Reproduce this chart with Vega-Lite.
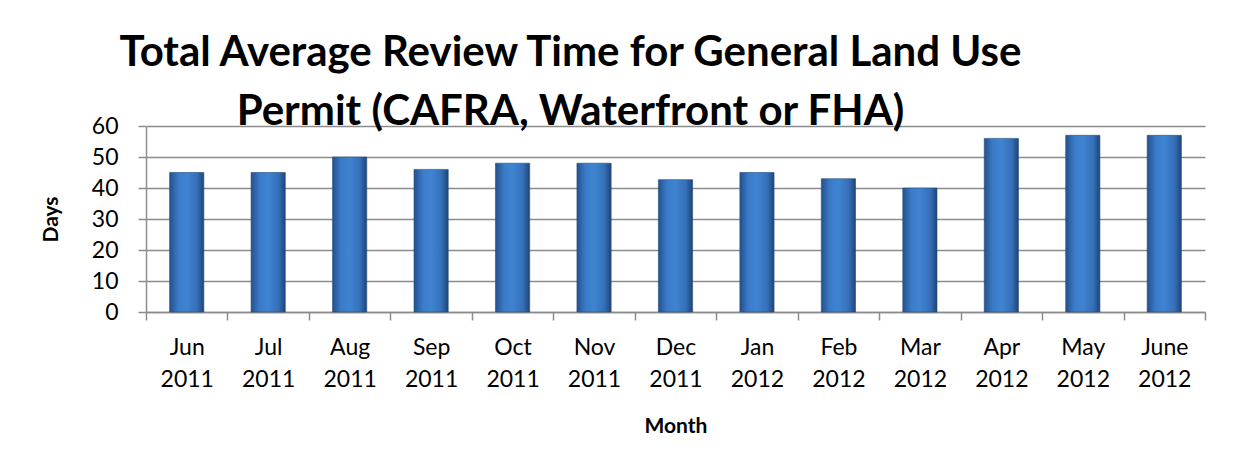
{
  "$schema": "https://vega.github.io/schema/vega-lite/v6.json",
  "width": 1059,
  "height": 186,
  "autosize": {"type": "none"},
  "padding": {"left": 146, "top": 126, "right": 38, "bottom": 155},
  "background": "white",
  "title": {
    "text": ["Total Average Review Time for General Land Use", "Permit (CAFRA, Waterfront or FHA)"],
    "font": "Lato",
    "fontSize": 42,
    "fontWeight": "bold",
    "color": "black",
    "lineHeight": 59,
    "anchor": "middle",
    "dx": -105,
    "dy": 21,
    "offset": 2
  },
  "data": {
    "values": [
      {"month": "Jun 2011", "days": 45},
      {"month": "Jul 2011", "days": 45},
      {"month": "Aug 2011", "days": 50},
      {"month": "Sep 2011", "days": 46},
      {"month": "Oct 2011", "days": 48},
      {"month": "Nov 2011", "days": 48},
      {"month": "Dec 2011", "days": 42.7},
      {"month": "Jan 2012", "days": 45},
      {"month": "Feb 2012", "days": 43},
      {"month": "Mar 2012", "days": 40},
      {"month": "Apr 2012", "days": 56},
      {"month": "May 2012", "days": 57},
      {"month": "June 2012", "days": 57}
    ]
  },
  "mark": {
    "type": "bar",
    "width": {"band": 0.42},
    "stroke": "#234a7e",
    "strokeWidth": 0.6,
    "color": {
      "gradient": "linear",
      "x1": 0, "y1": 0, "x2": 1, "y2": 0,
      "stops": [
        {"offset": 0, "color": "#24518c"},
        {"offset": 0.25, "color": "#3a7bc8"},
        {"offset": 0.5, "color": "#3f84d2"},
        {"offset": 0.8, "color": "#3570b8"},
        {"offset": 1, "color": "#1f4577"}
      ]
    }
  },
  "encoding": {
    "x": {
      "field": "month",
      "type": "nominal",
      "sort": null,
      "title": "Month",
      "scale": {"paddingInner": 0, "paddingOuter": 0},
      "axis": {
        "labelExpr": "split(datum.label, ' ')",
        "labelAngle": 0,
        "labelFont": "Lato",
        "labelFontSize": 23,
        "labelColor": "black",
        "labelLineHeight": 32,
        "labelPadding": 16,
        "tickBand": "extent",
        "tickSize": 8,
        "tickColor": "#8c8c8c",
        "tickWidth": 1.5,
        "domainColor": "#8c8c8c",
        "domainWidth": 1.5,
        "grid": false,
        "titleFont": "Lato",
        "titleFontSize": 21,
        "titleFontWeight": "bold",
        "titleColor": "black",
        "titlePadding": 24
      }
    },
    "y": {
      "field": "days",
      "type": "quantitative",
      "title": "Days",
      "scale": {"domain": [0, 60]},
      "axis": {
        "values": [0, 10, 20, 30, 40, 50, 60],
        "labelFont": "Lato",
        "labelFontSize": 23,
        "labelColor": "black",
        "labelPadding": 20,
        "tickSize": 8,
        "tickColor": "#8c8c8c",
        "tickWidth": 1.5,
        "domainColor": "#8c8c8c",
        "domainWidth": 1.5,
        "gridColor": "#8c8c8c",
        "gridWidth": 1.5,
        "titleFont": "Lato",
        "titleFontSize": 21,
        "titleFontWeight": "bold",
        "titleColor": "black",
        "titlePadding": 30
      }
    }
  },
  "config": {"view": {"stroke": null}}
}
